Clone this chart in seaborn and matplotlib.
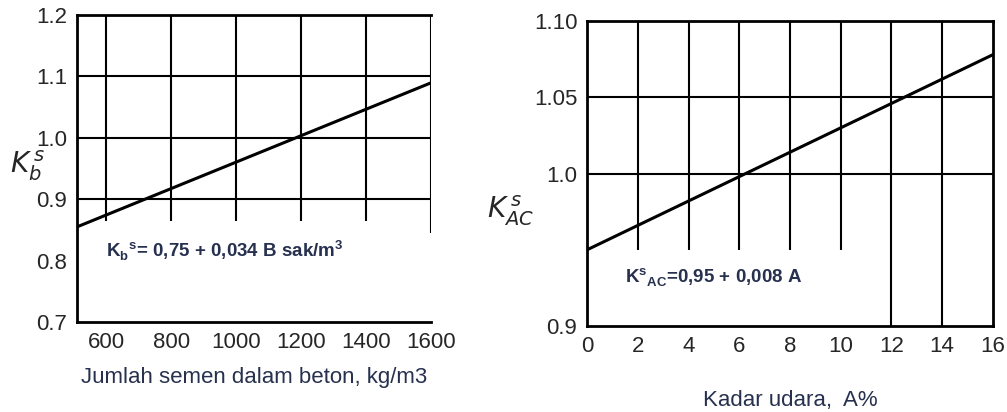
import pandas as pd
import seaborn as sns
import matplotlib.pyplot as plt

# left chart: cement content vs K_b
semen = [510, 1600]
kb = [0.855, 1.09]
semen_ticks = [600, 800, 1000, 1200, 1400, 1600]
kb_ticks = [0.7, 0.8, 0.9, 1.0, 1.1, 1.2]
kb_grid = [0.9, 1.0, 1.1]

# right chart: air content vs K_AC
udara = [0, 16]
kac = [0.95, 1.078]
udara_ticks = [0, 2, 4, 6, 8, 10, 12, 14, 16]
kac_ticks = [0.9, 1.0, 1.05, 1.10]
kac_ticklabels = ['0.9', '1.0', '1.05', '1.10']
kac_grid = [1.0, 1.05]

sns.set_style('white')
plt.rcParams['font.family'] = ['Liberation Sans', 'DejaVu Sans']

label_color = '#27314f'
fig = plt.figure(figsize=(10.07, 4.12), dpi=100)
ax1 = fig.add_axes([0.0765, 0.2184, 0.352, 0.745])
ax2 = fig.add_axes([0.583, 0.2087, 0.403, 0.740])

df1 = pd.DataFrame({'B': semen, 'K': kb})
df2 = pd.DataFrame({'A': udara, 'K': kac})

# ---- left
ax1.set_xlim(semen[0], 1600)
ax1.set_ylim(0.7, 1.2)
ax1.hlines(kb_grid, semen[0], 1600, color='black', lw=1.5)
ax1.vlines(semen_ticks[:-1], 0.865, 1.2, color='black', lw=1.5)
ax1.vlines([1600], 0.845, 1.2, color='black', lw=1.5)
sns.lineplot(data=df1, x='B', y='K', ax=ax1, color='black', lw=2.2)
ax1.set_xticks(semen_ticks)
ax1.set_yticks(kb_ticks)
ax1.set_yticklabels(['0.7', '0.8', '0.9', '1.0', '1.1', '1.2'])
ax1.text(600, 0.816, r'K$_\mathregular{b}$$^\mathregular{s}$= 0,75 + 0,034 B sak/m$^\mathregular{3}$',
         fontsize=13.5, fontweight='bold', color=label_color, va='center')
ax1.set_xlabel('Jumlah semen dalam beton, kg/m3', fontsize=16, color=label_color, labelpad=10)
ax1.set_ylabel('')
fig.text(0.010, 0.58, r'$K^{\,s}_{b}$', fontsize=20)
for s in ['left', 'bottom', 'top']:
    ax1.spines[s].set_color('black')
    ax1.spines[s].set_linewidth(2)
ax1.spines['right'].set_visible(False)
ax1.tick_params(direction='inout', length=6, width=1.5, labelsize=16, pad=4)

# ---- right
ax2.set_xlim(0, 16)
ax2.set_ylim(0.9, 1.10)
ax2.hlines(kac_grid, 0, 16, color='black', lw=1.5)
ax2.vlines([2, 4, 6, 8, 10], 0.95, 1.10, color='black', lw=1.5)
ax2.vlines([12, 14], 0.9, 1.10, color='black', lw=1.5)
sns.lineplot(data=df2, x='A', y='K', ax=ax2, color='black', lw=2.2)
ax2.set_xticks(udara_ticks)
ax2.set_yticks(kac_ticks)
ax2.set_yticklabels(kac_ticklabels)
ax2.text(1.5, 0.932, r'K$^\mathregular{s}$$_\mathregular{AC}$=0,95 + 0,008 A',
         fontsize=13.5, fontweight='bold', color=label_color, va='center')
ax2.set_xlabel('Kadar udara,  A%', fontsize=16, color=label_color, labelpad=24)
ax2.set_ylabel('')
fig.text(0.484, 0.47, r'$K^{\,s}_{AC}$', fontsize=20)
for s in ax2.spines.values():
    s.set_color('black')
    s.set_linewidth(2)
ax2.tick_params(direction='inout', length=6, width=1.5, labelsize=16, pad=4)

fig.savefig('out.png', dpi=100)
